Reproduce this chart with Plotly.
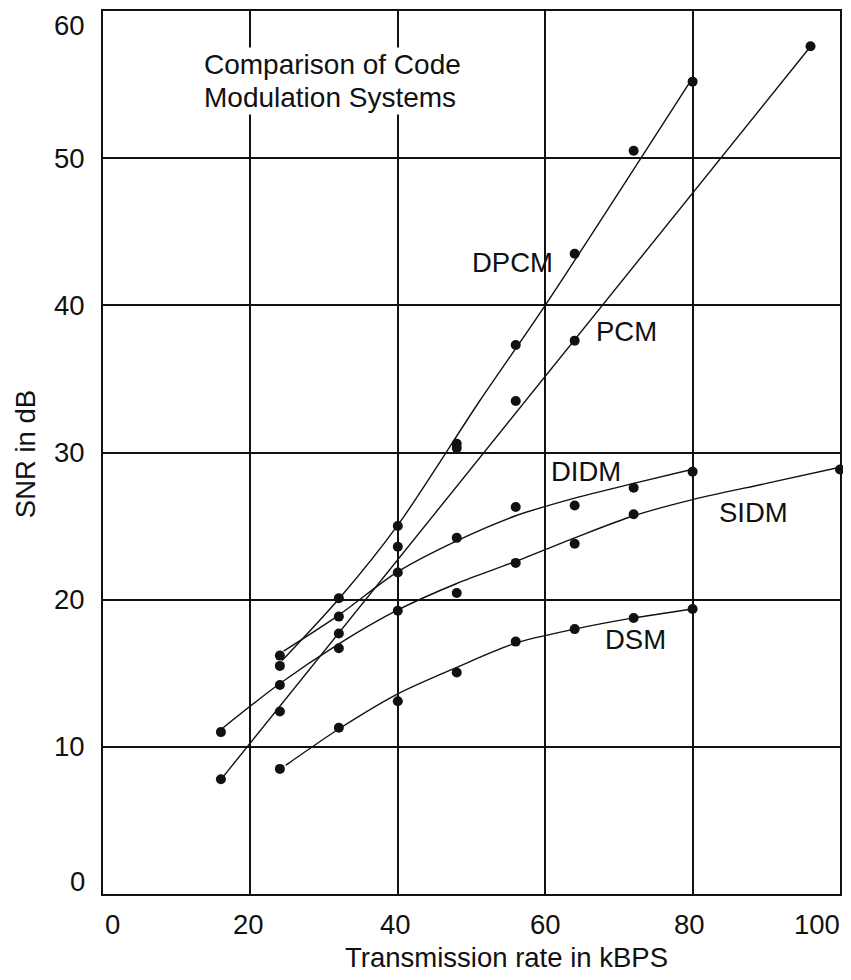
import plotly.graph_objects as go

# ---- data ----
# measured points
dpcm_x = [24, 32, 40, 48, 56, 64, 72, 80]
dpcm_y = [15.5, 20.1, 25.0, 30.6, 37.3, 43.5, 50.5, 55.2]
pcm_x = [16, 24, 32, 40, 48, 56, 64, 96]
pcm_y = [7.8, 12.4, 17.7, 23.6, 30.3, 33.5, 37.6, 57.6]
didm_x = [24, 32, 40, 48, 56, 64, 72, 80]
didm_y = [16.2, 18.85, 21.85, 24.2, 26.3, 26.4, 27.6, 28.7]
sidm_x = [16, 24, 32, 40, 48, 56, 64, 72, 100]
sidm_y = [11.0, 14.2, 16.7, 19.25, 20.45, 22.5, 23.8, 25.8, 28.85]
dsm_x = [24, 32, 40, 48, 56, 64, 72, 80]
dsm_y = [8.5, 11.3, 13.1, 15.05, 17.15, 18.0, 18.75, 19.37]

# hand-drawn fit curves
dpcm_fit_x = [24.3, 32.2, 40.1, 51.1, 60, 80]
dpcm_fit_y = [15.86, 20.16, 25.13, 33.5, 40.0, 55.46]
pcm_fit_x = [16.1, 95.7]
pcm_fit_y = [7.84, 57.4]
didm_fit_x = [24.5, 32, 40, 48, 56, 64, 72, 80]
didm_fit_y = [16.5, 18.95, 21.9, 24.0, 25.7, 26.9, 27.9, 28.86]
sidm_fit_x = [16.3, 24, 32, 40, 48, 56, 64, 72, 80, 90, 100]
sidm_fit_y = [11.3, 14.3, 17.0, 19.3, 21.1, 22.6, 24.2, 25.7, 26.8, 27.9, 29.0]
dsm_fit_x = [24.8, 32.2, 40, 48, 56, 64, 72, 80]
dsm_fit_y = [8.75, 11.28, 13.6, 15.4, 17.05, 18.0, 18.76, 19.37]

series_labels = ["DPCM", "PCM", "DIDM", "SIDM", "DSM"]
label_x = [55.6, 71.0, 65.6, 88.3, 72.3]
label_y = [42.9, 38.2, 28.7, 25.9, 17.3]

x_ticks = [0, 20, 40, 60, 80, 100]
y_ticks = [0, 10, 20, 30, 40, 50, 60]

title_lines = ["Comparison of Code", "Modulation Systems"]
x_title = "Transmission rate in kBPS"
y_title = "SNR in dB"

# ---- figure ----
FONT = "Liberation Sans, Arial, sans-serif"
FS = 27.5
INK = "#111111"

# the page body adds an 8px margin on every side; keep the page inside the window
OFF = 8
W, H = 851 - 2 * OFF, 980 - 2 * OFF
PLOT_L, PLOT_R, PLOT_T, PLOT_B = 103, 842, 9, 894      # window pixels
L, R, T, B = PLOT_L - OFF, W - (PLOT_R - OFF), PLOT_T - OFF, H - (PLOT_B - OFF)
pw, ph = W - L - R, H - T - B

fig = go.Figure()

fits = [(dpcm_fit_x, dpcm_fit_y, "spline"), (pcm_fit_x, pcm_fit_y, "linear"),
        (didm_fit_x, didm_fit_y, "spline"), (sidm_fit_x, sidm_fit_y, "spline"),
        (dsm_fit_x, dsm_fit_y, "spline")]
for fx, fy, shp in fits:
    fig.add_trace(go.Scatter(x=fx, y=fy, mode="lines",
                             line=dict(color=INK, width=1.4, shape=shp, smoothing=0.8),
                             hoverinfo="skip", showlegend=False))

pts = [(dpcm_x, dpcm_y), (pcm_x, pcm_y), (didm_x, didm_y), (sidm_x, sidm_y), (dsm_x, dsm_y)]
for px, py in pts:
    fig.add_trace(go.Scatter(x=px, y=py, mode="markers",
                             marker=dict(color=INK, size=10, line=dict(width=0)),
                             cliponaxis=False, showlegend=False))

def paper_x(px):
    return (px - OFF - L) / pw

def paper_y(py):
    return (H - B - (py - OFF)) / ph

annotations = []
for t, lx, ly in zip(series_labels, label_x, label_y):
    annotations.append(dict(x=lx, y=ly, xref="x", yref="y", text=t, showarrow=False,
                            xanchor="center", yanchor="middle",
                            font=dict(family=FONT, size=FS, color=INK)))

# boxed title, one annotation per line (white background hides the grid)
for line, py in zip(title_lines, [63, 96]):
    annotations.append(dict(x=paper_x(202), y=paper_y(py), xref="paper", yref="paper",
                            text=line, showarrow=False, xanchor="left", yanchor="middle",
                            bgcolor="white", borderpad=1,
                            font=dict(family=FONT, size=28, color=INK)))

# tick labels
x_shift = [9, -2, -2, 0, -3, -23]
for v, s in zip(x_ticks, x_shift):
    annotations.append(dict(x=v, y=0, xref="x", yref="paper", text=str(v), showarrow=False,
                            xanchor="center", yanchor="middle", xshift=s, yshift=-30,
                            font=dict(family=FONT, size=FS, color=INK)))
y_shift = {0: 13, 60: -14}
for v in y_ticks:
    annotations.append(dict(x=0, y=v, xref="paper", yref="y", text=str(v), showarrow=False,
                            xanchor="right", yanchor="middle", xshift=-16,
                            yshift=y_shift.get(v, 0),
                            font=dict(family=FONT, size=FS, color=INK)))

# axis titles (placed by window pixel position)
annotations.append(dict(x=paper_x(507.5), y=paper_y(958), xref="paper", yref="paper",
                        text=x_title, showarrow=False, xanchor="center", yanchor="middle",
                        font=dict(family=FONT, size=FS, color=INK)))
annotations.append(dict(x=paper_x(26), y=paper_y(453), xref="paper", yref="paper",
                        text=y_title, showarrow=False, xanchor="center", yanchor="middle",
                        textangle=-90, font=dict(family=FONT, size=FS, color=INK)))

fig.update_layout(
    width=W, height=H,
    margin=dict(l=L, r=R, t=T, b=B, pad=0),
    paper_bgcolor="white", plot_bgcolor="white",
    annotations=annotations,
    font=dict(family=FONT, size=FS, color=INK),
)
fig.update_xaxes(range=[0, 100], tickvals=x_ticks, showticklabels=False,
                 showgrid=True, gridcolor=INK, gridwidth=1.6,
                 showline=True, linecolor=INK, linewidth=1.6, mirror=True,
                 zeroline=False, ticks="")
fig.update_yaxes(range=[0, 60], tickvals=y_ticks, showticklabels=False,
                 showgrid=True, gridcolor=INK, gridwidth=1.6,
                 showline=True, linecolor=INK, linewidth=1.6, mirror=True,
                 zeroline=False, ticks="")

fig.write_html("out.html")
